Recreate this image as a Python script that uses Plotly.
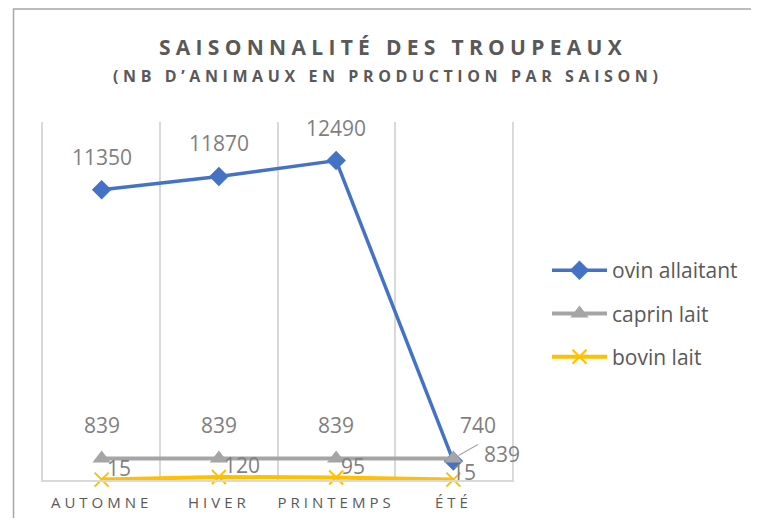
import plotly.graph_objects as go

categories = ["AUTOMNE", "HIVER", "PRINTEMPS", "ÉTÉ"]
ovin_allaitant = [11350, 11870, 12490, 740]
caprin_lait = [839, 839, 839, 839]
bovin_lait = [15, 120, 95, 15]

title_text = "SAISONNALITÉ DES TROUPEAUX"
subtitle_text = "(NB D’ANIMAUX EN PRODUCTION PAR SAISON)"

# page body has an 8px margin: work in screen pixels, convert to figure pixels
OFF = 8
SW, SH = 759, 526
W, H = SW - 2 * OFF, SH - 2 * OFF
# plot area in screen pixels
PX0, PX1, PY0, PY1 = 43, 512, 122, 480
ML, MR, MT, MB = PX0 - OFF, W - (PX1 - OFF), PY0 - OFF, H - (PY1 - OFF)
PW, PH = PX1 - PX0, PY1 - PY0

def px_to_paper_x(px):
    return (px - PX0) / PW

def px_to_paper_y(py):
    return (PY1 - py) / PH

TXT = "#595959"
LBL = "#7f7f7f"
FONT = "Open Sans"

fig = go.Figure()
fig.add_trace(go.Scatter(
    x=categories, y=ovin_allaitant, name="ovin allaitant", mode="lines+markers",
    line=dict(color="#4472c4", width=3.5), marker=dict(symbol="diamond", size=15, color="#4472c4"),
    cliponaxis=False, legendgroup="a"))
fig.add_trace(go.Scatter(
    x=categories, y=caprin_lait, name="caprin lait", mode="lines+markers",
    line=dict(color="#a5a5a5", width=4), marker=dict(symbol="triangle-up", size=16, color="#a5a5a5"),
    cliponaxis=False, legendgroup="b"))
fig.add_trace(go.Scatter(
    x=categories, y=bovin_lait, name="bovin lait", mode="lines+markers",
    line=dict(color="#ffc000", width=4),
    marker=dict(symbol="x-thin", size=14, color="#ffc000", line=dict(color="#ffc000", width=2)),
    cliponaxis=False, legendgroup="c"))

annotations = []
series = [
    (ovin_allaitant, dict(xanchor="center", xshift=0, yshift=33), dict(xshift=25, yshift=36)),
    (caprin_lait, dict(xanchor="center", xshift=0, yshift=34), dict(xanchor="left", xshift=29, yshift=5)),
    (bovin_lait, dict(xanchor="left", xshift=3, yshift=12), dict(xanchor="left", xshift=-3, yshift=8)),
]
for vals, base, last in series:
    for i, (c, v) in enumerate(zip(categories, vals)):
        opts = dict(base)
        if i == len(categories) - 1:
            opts.update(last)
        annotations.append(dict(x=c, y=v, text=str(v), showarrow=False, yanchor="middle",
                                font=dict(family=FONT, size=21, color=LBL), **opts))

# leader line for the last caprin label
annotations.append(dict(x=categories[-1], y=caprin_lait[-1], text="", showarrow=True,
                        ax=26, ay=-15, arrowhead=0, arrowwidth=1.2, arrowcolor="#a5a5a5", standoff=6))

# subtitle
annotations.append(dict(xref="paper", yref="paper", x=px_to_paper_x(387), y=px_to_paper_y(76),
                        text="<span style='letter-spacing:4.6px'>" + subtitle_text + "</span>",
                        showarrow=False, xanchor="center", yanchor="middle",
                        font=dict(family=FONT, size=16, color=TXT, weight="bold")))

shapes = [dict(type="rect", xref="paper", yref="paper",
               x0=px_to_paper_x(13.5), x1=px_to_paper_x(SW + 20),
               y0=px_to_paper_y(SH + 20), y1=px_to_paper_y(9),
               line=dict(color="#a6a6a6", width=1.5), fillcolor="rgba(0,0,0,0)", layer="below")]

fig.update_layout(
    width=W, height=H,
    margin=dict(l=ML, r=MR, t=MT, b=MB, autoexpand=False),
    paper_bgcolor="white", plot_bgcolor="white",
    title=dict(text="<span style='letter-spacing:5.3px'>" + title_text + "</span>",
               x=(393 - OFF) / W, xref="container", xanchor="center",
               y=(H - (48 - OFF)) / H, yref="container", yanchor="middle",
               font=dict(family=FONT, size=21, color=TXT, weight="bold")),
    xaxis=dict(type="category", range=[-0.5, 3.5], tickson="boundaries", showgrid=True,
               gridcolor="#d9d9d9", gridwidth=1.5, showline=True, linecolor="#d9d9d9", linewidth=1.5,
               ticks="", zeroline=False, tickangle=0, automargin=False,
               tickvals=categories,
               ticktext=["<span style='letter-spacing:4px'>" + c + "</span>" for c in categories],
               tickfont=dict(family=FONT, size=15, color=TXT), ticklabelstandoff=8),
    yaxis=dict(range=[0, 14000], showgrid=False, zeroline=False, showticklabels=False,
               showline=True, mirror=True, linecolor="#d9d9d9", linewidth=1.5, ticks="",
               automargin=False),
    legend=dict(x=px_to_paper_x(547), y=px_to_paper_y(250), xanchor="left", yanchor="top",
                font=dict(family=FONT, size=21, color=TXT), tracegroupgap=13,
                itemwidth=55, bgcolor="rgba(0,0,0,0)"),
    annotations=annotations,
    shapes=shapes,
)

fig.write_html("out.html")
